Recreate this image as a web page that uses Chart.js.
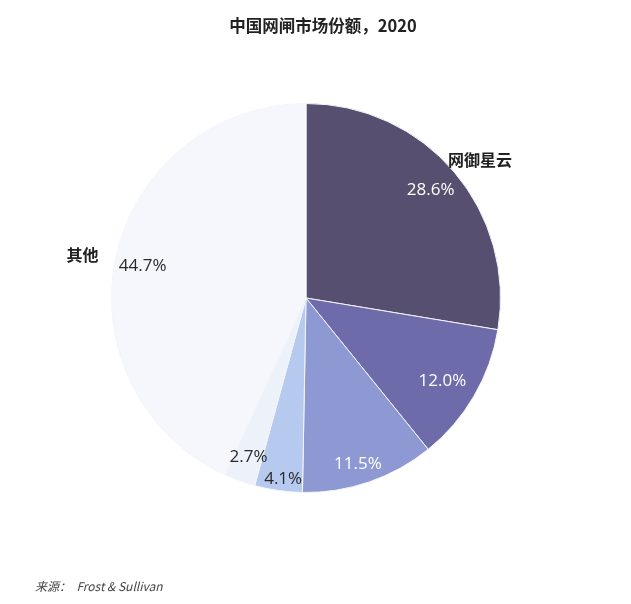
<!DOCTYPE html>
<html>
<head>
<meta charset="utf-8">
<script src="https://cdn.jsdelivr.net/npm/chart.js@4"></script>
<style>
    html, body { margin: 0; padding: 0; background: #fff; }
    .wrap { position: relative; width: 631px; height: 604px; }
    .title {
        position: absolute; left: 0; width: 646px; top: 13px; text-align: center;
        font: bold 16.5px "Noto Sans CJK SC", "Noto Sans", sans-serif; color: #222;
    }
    .source {
        position: absolute; left: 35px; top: 577px;
        font: italic 12px "Noto Sans CJK SC", "Open Sans", sans-serif; color: #444;
    }
</style>
</head>
<body>
<div class="wrap">
    <canvas id="myChart" width="631" height="604"></canvas>
    <div class="title">中国网闸市场份额，2020</div>
    <div class="source">来源：&nbsp; Frost &amp; Sullivan</div>
</div>
<script>
const labels = ['网御星云', '', '', '', '', '其他'];
const shares = [28.6, 12.0, 11.5, 4.1, 2.7, 44.7];
const pctLabels = ['28.6%', '12.0%', '11.5%', '4.1%', '2.7%', '44.7%'];
const colors = ['#574f70', '#6d6baa', '#8e98d2', '#b6c9ee', '#edf1fa', '#f5f7fc'];

// label placement: radius factor + pixel nudge per slice
const pctPos = [
    { f: 0.84, dx: 0, dy: -2, color: '#fff' },
    { f: 0.80, dx: 2, dy: 5, color: '#fff' },
    { f: 0.87, dx: -3, dy: 6, color: '#fff' },
    { f: 0.90, dx: 2, dy: 8, color: '#2a2a2a' },
    { f: 0.85, dx: -1, dy: 4, color: '#2a2a2a' },
    { f: 0.86, dx: 0, dy: 4, color: '#2a2a2a' },
];
const namePos = [
    { f: 1.14, dx: 5, dy: 5 },
    null, null, null, null,
    { f: 1.16, dx: -3, dy: 5 },
];

const labelPlugin = {
    id: 'sliceLabels',
    afterDatasetsDraw(chart) {
        const ctx = chart.ctx;
        const meta = chart.getDatasetMeta(0);
        ctx.save();
        ctx.textAlign = 'center';
        ctx.textBaseline = 'middle';
        meta.data.forEach((arc, i) => {
            const p = arc.getProps(['x', 'y', 'startAngle', 'endAngle', 'outerRadius'], true);
            const mid = (p.startAngle + p.endAngle) / 2;
            const pp = pctPos[i];
            ctx.font = '17px "Open Sans", "Noto Sans", sans-serif';
            ctx.fillStyle = pp.color;
            ctx.fillText(pctLabels[i],
                p.x + Math.cos(mid) * p.outerRadius * pp.f + pp.dx,
                p.y + Math.sin(mid) * p.outerRadius * pp.f + pp.dy);
            const np = namePos[i];
            if (np && labels[i]) {
                ctx.font = 'bold 16px "Noto Sans CJK SC", sans-serif';
                ctx.fillStyle = '#222';
                ctx.fillText(labels[i],
                    p.x + Math.cos(mid) * p.outerRadius * np.f + np.dx,
                    p.y + Math.sin(mid) * p.outerRadius * np.f + np.dy);
            }
        });
        ctx.restore();
    }
};

const ctx = document.getElementById('myChart').getContext('2d');
const myChart = new Chart(ctx, {
    type: 'pie',
    data: {
        labels: labels,
        datasets: [{
            data: shares,
            backgroundColor: colors,
            borderColor: '#f4f5fa',
            borderWidth: 1,
        }]
    },
    options: {
        responsive: false,
        animation: false,
        layout: {
            padding: { left: 111, right: 130, top: 103, bottom: 111 }
        },
        plugins: {
            legend: { display: false },
            tooltip: { enabled: false },
        }
    },
    plugins: [labelPlugin]
});
</script>
</body>
</html>
